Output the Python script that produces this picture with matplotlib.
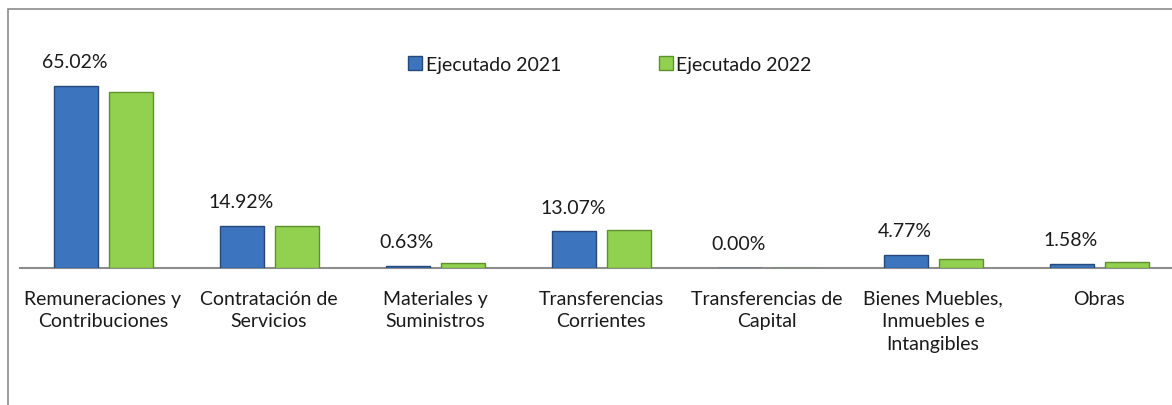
import matplotlib
matplotlib.use("Agg")
import matplotlib.pyplot as plt
from matplotlib.patches import Rectangle
import numpy as np

categories = ["Remuneraciones y\nContribuciones", "Contratación de\nServicios",
              "Materiales y\nSuministros", "Transferencias\nCorrientes",
              "Transferencias de\nCapital", "Bienes Muebles,\nInmuebles e\nIntangibles",
              "Obras"]
ejec_2021 = [65.02, 14.92, 0.63, 13.07, 0.00, 4.77, 1.58]
ejec_2022 = [62.9, 15.0, 1.8, 13.5, 0.1, 3.2, 2.1]
series_names = ["Ejecutado 2021", "Ejecutado 2022"]

W, H = 1172, 406
fig = plt.figure(figsize=(W / 100, H / 100), dpi=100)
plt.rcParams['font.family'] = ['Lato', 'DejaVu Sans']
FS = 14

# outer chart border (cut off at right/bottom)
fig.patches.append(Rectangle((8 / W, -0.1), 2.0, (H - 10) / H + 0.1,
                             transform=fig.transFigure, fill=False,
                             edgecolor='#8c8c8c', linewidth=1.2))

x0, x1 = 20, 1182
yb, yt = 269, 30
ax = fig.add_axes([x0 / W, (H - yb) / H, (x1 - x0) / W, (yb - yt) / H])
ax.set_xlim(0, len(categories))
ax.set_ylim(0, (yb - yt) / 2.8)

x = np.arange(len(categories)) + 0.5
bw = 0.265
blue, blue_edge = '#3c74bd', '#24497a'
green, green_edge = '#92d050', '#5f8f2f'
ax.bar(x - 0.163, ejec_2021, bw, color=blue, edgecolor=blue_edge, linewidth=1.0,
       label=series_names[0], zorder=3)
ax.bar(x + 0.166, ejec_2022, bw, color=green, edgecolor=green_edge, linewidth=1.0,
       label=series_names[1], zorder=3)

for xi, v in zip(x, ejec_2021):
    ax.annotate(f"{v:.2f}%", (xi - 0.17, v), xytext=(0, 17.5), textcoords='offset points',
                ha='center', va='center', fontsize=FS, color='#1a1a1a')

for s in ['top', 'right', 'left']:
    ax.spines[s].set_visible(False)
ax.spines['bottom'].set_color('#8c8c8c')
ax.spines['bottom'].set_linewidth(1.5)
ax.set_yticks([])
ax.set_xticks(x)
ax.set_xticklabels(categories, fontsize=FS, color='#1a1a1a', linespacing=1.42)
ax.tick_params(axis='x', length=0, pad=15.5)

leg = fig.legend(loc='center', bbox_to_anchor=(610 / W, 1 - 65 / H), ncol=2,
                 frameon=False, fontsize=FS, handlelength=0.72, handleheight=0.72,
                 handletextpad=0.2, columnspacing=5.0)
for t in leg.get_texts():
    t.set_color('#1a1a1a')

fig.savefig("out.png", dpi=100)
